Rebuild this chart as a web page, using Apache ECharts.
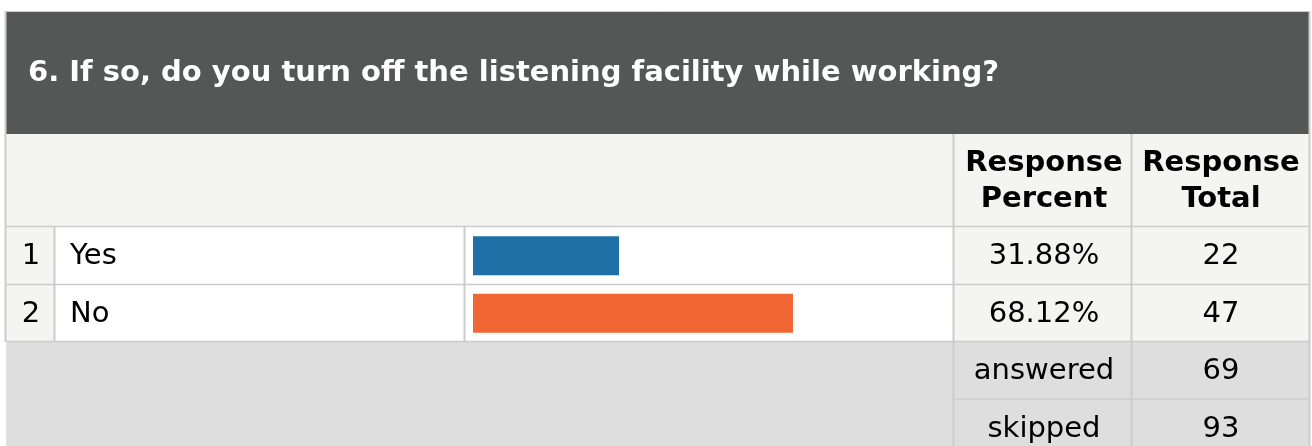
<!DOCTYPE html>
<html>
<head>
<meta charset="utf-8">
<script src="https://cdn.jsdelivr.net/npm/echarts@6/dist/echarts.min.js"></script>
<style>
html,body{margin:0;padding:0;background:#fff;}
#chart{width:1312px;height:446px;}
</style>
</head>
<body>
<div id="chart"></div>
<script>
// ---- data ----
const title = '6. If so, do you turn off the listening facility while working?';
const headerPercent = ['Response', 'Percent'];
const headerTotal = ['Response', 'Total'];
const rowNumbers = ['1', '2'];
const categories = ['Yes', 'No'];
const percents = [31.88, 68.12];
const totals = [22, 47];
const summaryLabels = ['answered', 'skipped'];
const summaryValues = [69, 93];
const barColors = ['#1f70a6', '#f06733'];

// ---- layout ----
const L = 6, R = 1309;
const headTop = 12, headBot = 133;
const colHeadBot = 226;
const rowH = 57.5;
const rowTop = 227;
const colNum = 54, colText = 464, colPct = 953, colTot = 1131;
const sumTop = rowTop + rowH * categories.length;
const font = '"DejaVu Sans", Verdana, sans-serif';
const border = '#cccccc';
const barPad = 7;

const chart = echarts.init(document.getElementById('chart'), null, {renderer: 'canvas'});

const g = [];
function rect(x, y, w, h, fill, z) {
  g.push({type: 'rect', shape: {x, y, width: w, height: h}, style: {fill}, z: z || 0, silent: true});
}
function line(x1, y1, x2, y2, w, z) {
  g.push({type: 'line', shape: {x1, y1, x2, y2}, style: {stroke: border, lineWidth: w || 1}, z: z || 5, silent: true});
}
function text(str, x, y, opts) {
  g.push({type: 'text', x, y, z: 10, silent: true, style: Object.assign({
    text: str, fill: '#000', font: '29px ' + font, textAlign: 'center', textVerticalAlign: 'middle'
  }, opts || {})});
}

// dark title band
rect(L, headTop, R - L, headBot - headTop + 1, '#555756');
// column header row
rect(L, headBot + 1, R - L, colHeadBot - headBot, '#f4f4f2');
// data rows
categories.forEach((c, i) => {
  const y = rowTop + i * rowH;
  rect(L, y, colNum - L, rowH, '#f4f4f2');
  rect(colNum, y, colPct - colNum, rowH, '#ffffff');
  rect(colPct, y, R - colPct, rowH, '#f4f4f2');
});
// summary area
rect(L, sumTop, R - L, 446 - sumTop, '#dedede');

// borders
line(L - 0.5, headTop - 1, L - 0.5, sumTop, 2);
line(L, headTop - 0.5, R, headTop - 0.5, 1);
line(R + 0.5, headTop - 1, R + 0.5, 446, 2);
line(L, colHeadBot + 0.5, R, colHeadBot + 0.5, 1.5);
categories.forEach((c, i) => {
  const y = rowTop + (i + 1) * rowH;
  line(L, Math.round(y) - 0.5, R, Math.round(y) - 0.5, 1.5);
});
line(colNum + 0.5, rowTop, colNum + 0.5, sumTop, 2);
line(colText + 0.5, rowTop, colText + 0.5, sumTop, 2);
line(colPct + 0.5, headBot + 1, colPct + 0.5, 446, 2);
line(colTot + 0.5, headBot + 1, colTot + 0.5, 446, 2);
line(colPct, sumTop + rowH - 0.5, R, sumTop + rowH - 0.5, 1.5);

// title
text(title, 28, 73, {fill: '#ffffff', font: 'bold 29px ' + font, textAlign: 'left'});
// column headers
const pctX = (colPct + colTot) / 2 + 2, totX = (colTot + R) / 2 + 1;
text(headerPercent[0], pctX, 163, {font: 'bold 29px ' + font});
text(headerPercent[1], pctX, 199, {font: 'bold 29px ' + font});
text(headerTotal[0], totX, 163, {font: 'bold 29px ' + font});
text(headerTotal[1], totX, 199, {font: 'bold 29px ' + font});
// rows
categories.forEach((c, i) => {
  const cy = rowTop + i * rowH + rowH / 2 + 1;
  text(rowNumbers[i], (L + colNum) / 2 + 1, cy);
  text(c, 70, cy, {textAlign: 'left'});
  text(percents[i].toFixed(2) + '%', pctX, cy);
  text(String(totals[i]), totX, cy);
});
summaryLabels.forEach((s, i) => {
  const cy = sumTop + i * rowH + rowH / 2 + 1;
  text(s, pctX, cy);
  text(String(summaryValues[i]), totX, cy);
});

chart.setOption({
  animation: false,
  grid: {left: colText + 2, width: 480, top: rowTop, height: rowH * categories.length, containLabel: false},
  xAxis: {type: 'value', min: 0, max: 100, show: false},
  yAxis: {type: 'category', data: categories, inverse: true, show: false},
  graphic: g,
  series: [{
    type: 'custom',
    z: 20,
    silent: true,
    data: percents.map((v, i) => [v, i]),
    encode: {x: 0, y: 1},
    renderItem: function (params, api) {
      const idx = api.value(1);
      const start = api.coord([0, idx]);
      const end = api.coord([api.value(0), idx]);
      const h = 39;
      return {
        type: 'rect',
        shape: {x: start[0] + barPad, y: end[1] - h / 2, width: end[0] - start[0] - barPad, height: h},
        style: {fill: barColors[params.dataIndex]}
      };
    }
  }]
});
</script>
</body>
</html>
